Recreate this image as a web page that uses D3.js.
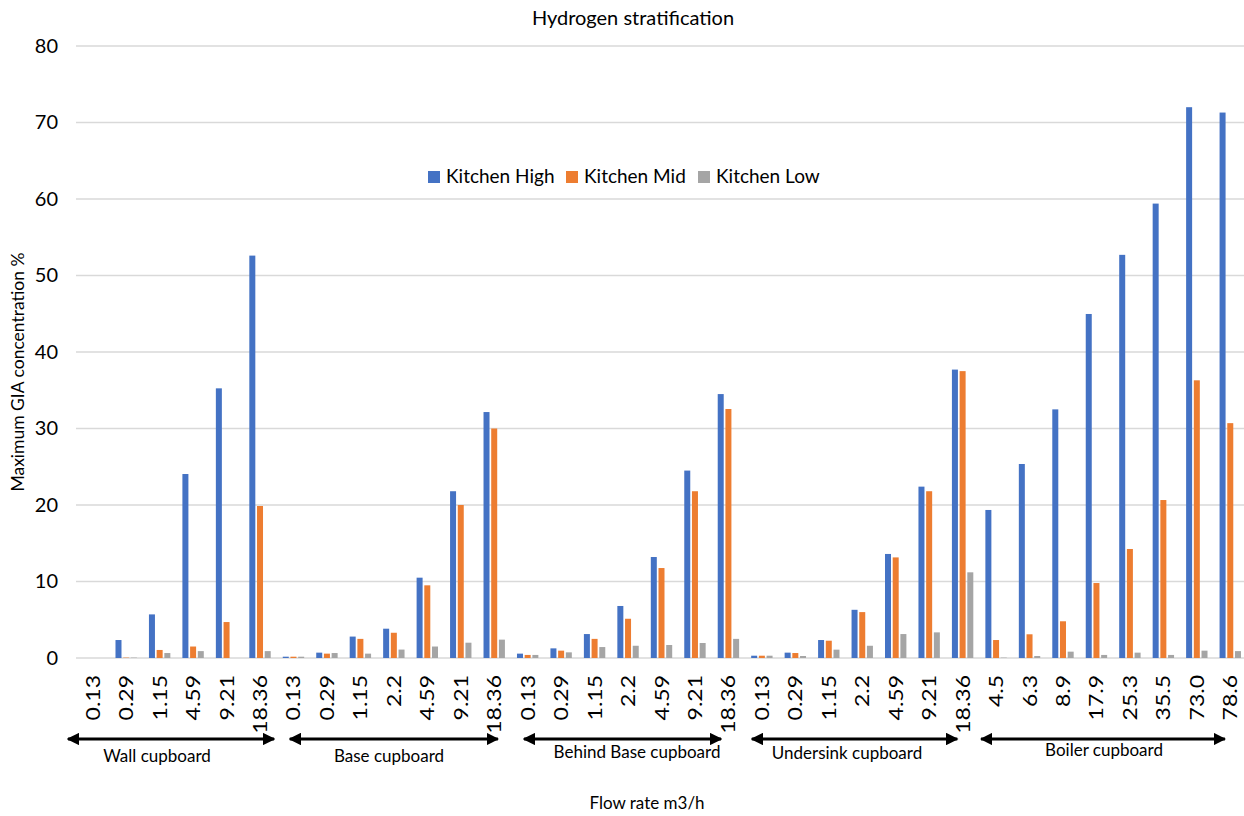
<!DOCTYPE html>
<html>
<head>
<meta charset="utf-8">
<script src="https://cdn.jsdelivr.net/npm/d3@7"></script>
<style>
  html, body { margin: 0; padding: 0; background: #fff; }
  svg { display: block; font-family: Lato, "Open Sans", "Liberation Sans", sans-serif; }
</style>
</head>
<body>
<svg id="chart" width="1244" height="816"></svg>
<script>
// Flow rate of each test, grouped by cupboard location
const flowLabels = [
  "0.13", "0.29", "1.15", "4.59", "9.21", "18.36",
  "0.13", "0.29", "1.15", "2.2", "4.59", "9.21", "18.36",
  "0.13", "0.29", "1.15", "2.2", "4.59", "9.21", "18.36",
  "0.13", "0.29", "1.15", "2.2", "4.59", "9.21", "18.36",
  "4.5", "6.3", "8.9", "17.9", "25.3", "35.5", "73.0", "78.6"
];

const groupNames = ["Wall cupboard", "Base cupboard", "Behind Base cupboard", "Undersink cupboard", "Boiler cupboard"];
const groupSizes = [6, 7, 7, 7, 8];

const seriesNames = ["Kitchen High", "Kitchen Mid", "Kitchen Low"];

// Maximum GIA concentration (%) at each sensor height
const kitchenHigh = [
  0, 2.35, 5.7, 24.05, 35.25, 52.6,
  0.17, 0.7, 2.8, 3.83, 10.5, 21.8, 32.15,
  0.57, 1.26, 3.13, 6.8, 13.2, 24.5, 34.5,
  0.3, 0.7, 2.35, 6.3, 13.6, 22.4, 37.7,
  19.35, 25.36, 32.5, 44.97, 52.7, 59.4, 72.0, 71.3
];
const kitchenMid = [
  0, 0.05, 1.05, 1.5, 4.7, 19.87,
  0.17, 0.57, 2.5, 3.3, 9.5, 20.0, 30.0,
  0.4, 0.96, 2.5, 5.13, 11.76, 21.8, 32.55,
  0.3, 0.65, 2.26, 6.0, 13.15, 21.8, 37.5,
  2.35, 3.1, 4.8, 9.8, 14.25, 20.65, 36.3, 30.7
];
const kitchenLow = [
  0, 0.05, 0.65, 0.9, 0, 0.9,
  0.17, 0.65, 0.57, 1.1, 1.5, 2.0, 2.4,
  0.4, 0.74, 1.43, 1.6, 1.7, 1.96, 2.5,
  0.3, 0.26, 1.09, 1.6, 3.13, 3.35, 11.2,
  0.05, 0.26, 0.83, 0.4, 0.7, 0.4, 0.96, 0.9
];

const yTicks = [0, 10, 20, 30, 40, 50, 60, 70, 80];

// Bracket arrows under each group, in category units
const arrowSpans = [[-0.24, 5.92], [6.39, 12.61], [13.39, 19.28], [20.2, 26.34], [27.05, 34.34]];

const colors = ["#4472C4", "#ED7D31", "#A5A5A5"];
const seriesValues = [kitchenHigh, kitchenMid, kitchenLow];

const W = 1244, H = 816;
const plot = { left: 76, right: 1247, top: 46, bottom: 658 };

const svg = d3.select("#chart");

const idx = d3.range(flowLabels.length);
const x0 = d3.scaleBand().domain(idx).range([plot.left, plot.right])
  .paddingInner(0.31).paddingOuter(0.155);
const x1 = d3.scaleBand().domain(seriesNames).range([0, x0.bandwidth()])
  .paddingInner(0.22).paddingOuter(0.11);
const y = d3.scaleLinear().domain([0, 80]).range([plot.bottom, plot.top]);
const xUnit = d3.scaleLinear().domain([0, flowLabels.length]).range([plot.left, plot.right]);

// Gridlines
svg.append("g")
  .selectAll("line")
  .data(yTicks)
  .join("line")
  .attr("x1", plot.left).attr("x2", W)
  .attr("y1", d => y(d)).attr("y2", d => y(d))
  .attr("stroke", "#d9d9d9").attr("stroke-width", 1.3);

// Y axis labels
const yAxis = d3.axisLeft(y).tickValues(yTicks).tickSize(0).tickPadding(0);
svg.append("g")
  .attr("transform", `translate(${plot.left - 18},0)`)
  .call(yAxis)
  .call(g => g.select(".domain").remove())
  .call(g => g.selectAll("text").attr("font-size", 20).attr("fill", "#000")
    .attr("font-family", "Lato, sans-serif"));

// Bars
const rows = idx.map(i => ({ i, vals: seriesNames.map((s, k) => ({ s, k, v: seriesValues[k][i] })) }));
svg.append("g")
  .selectAll("g")
  .data(rows)
  .join("g")
  .attr("transform", d => `translate(${x0(d.i)},0)`)
  .selectAll("rect")
  .data(d => d.vals)
  .join("rect")
  .attr("x", d => x1(d.s))
  .attr("width", x1.bandwidth())
  .attr("y", d => y(d.v))
  .attr("height", d => y(0) - y(d.v))
  .attr("fill", d => colors[d.k]);

// X axis tick labels (rotated)
const xAxis = d3.axisBottom(x0).tickFormat(i => flowLabels[i]).tickSize(0).tickPadding(0);
svg.append("g")
  .attr("transform", `translate(0,${plot.bottom})`)
  .call(xAxis)
  .call(g => g.select(".domain").remove())
  .call(g => g.selectAll("text")
    .attr("font-size", 20)
    .attr("font-family", "Lato, sans-serif")
    .attr("fill", "#000")
    .attr("text-anchor", "end")
    .attr("dy", null)
    .attr("transform", "translate(7,17) rotate(-90) scale(1.15,1)"));

// Group arrows
const defs = svg.append("defs");
["start", "end"].forEach(kind => {
  defs.append("marker")
    .attr("id", "head-" + kind)
    .attr("viewBox", "0 0 10 10")
    .attr("refX", 9).attr("refY", 5)
    .attr("markerWidth", 4.2).attr("markerHeight", 4.2)
    .attr("markerUnits", "strokeWidth")
    .attr("orient", kind === "end" ? "auto" : "auto-start-reverse")
    .append("path")
    .attr("d", "M0,0 L10,5 L0,10 Z")
    .attr("fill", "#000");
});

const arrowY = 739;
svg.append("g")
  .selectAll("line")
  .data(arrowSpans)
  .join("line")
  .attr("x1", d => xUnit(d[0])).attr("x2", d => xUnit(d[1]))
  .attr("y1", arrowY).attr("y2", arrowY)
  .attr("stroke", "#000").attr("stroke-width", 3)
  .attr("marker-start", "url(#head-start)")
  .attr("marker-end", "url(#head-end)");

// Group names
const groupLabelY = [762, 762, 758, 759, 756];
const groupCenters = [157, 389, 637, 847, 1104];
svg.append("g")
  .selectAll("text")
  .data(groupNames)
  .join("text")
  .attr("x", (d, i) => groupCenters[i])
  .attr("y", (d, i) => groupLabelY[i])
  .attr("text-anchor", "middle")
  .attr("font-size", 17)
  .attr("fill", "#000")
  .text(d => d);

// Title
svg.append("text")
  .attr("x", 633).attr("y", 25)
  .attr("text-anchor", "middle")
  .attr("font-size", 20)
  .attr("fill", "#000")
  .text("Hydrogen stratification");

// Axis titles
svg.append("text")
  .attr("transform", `translate(24,372) rotate(-90)`)
  .attr("text-anchor", "middle")
  .attr("font-size", 17.5)
  .attr("fill", "#000")
  .text("Maximum GIA concentration %");

svg.append("text")
  .attr("x", 647).attr("y", 809)
  .attr("text-anchor", "middle")
  .attr("font-size", 17)
  .attr("fill", "#000")
  .text("Flow rate m3/h");

// Legend
const legendX = [428, 566, 698];
const legend = svg.append("g")
  .selectAll("g")
  .data(seriesNames)
  .join("g")
  .attr("transform", (d, i) => `translate(${legendX[i]},171)`);
legend.append("rect")
  .attr("width", 12).attr("height", 12)
  .attr("fill", (d, i) => colors[i]);
legend.append("text")
  .attr("x", 18).attr("y", 12)
  .attr("font-size", 19)
  .attr("fill", "#000")
  .text(d => d);
</script>
</body>
</html>
